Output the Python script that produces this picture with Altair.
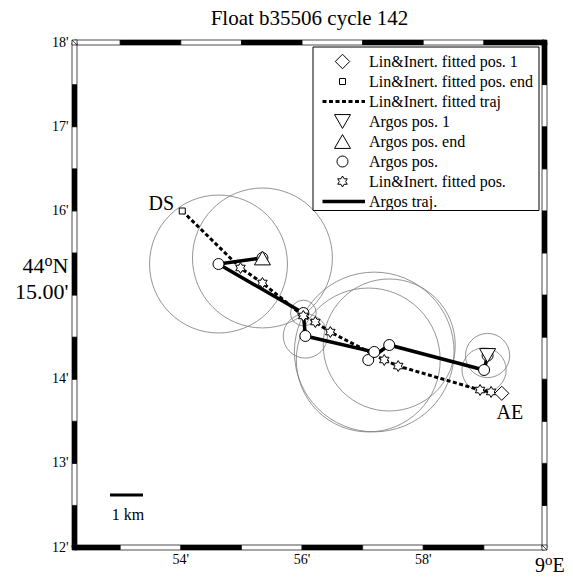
import altair as alt
import pandas as pd

TITLE = "Float b35506 cycle 142"

# Argos fixes in time order (first -> last); minutes of longitude east of 8°E / latitude north of 44°N
argos_lon = [59.061, 59.003, 57.438, 57.092, 57.191, 56.054, 56.021, 54.621, 55.346]
argos_lat = [14.281, 14.109, 14.406, 14.228, 14.323, 14.513, 14.786, 15.368, 15.440]
argos_err_km = [0.67, 0.67, 2.0, 2.18, 2.42, 0.67, 0.39, 2.09, 2.12]

# Lin&Inert fitted positions (DS first, AE last)
fit_lon = [54.023, 54.984, 55.346, 56.021, 56.219, 56.466, 57.356, 57.586, 58.937, 59.119, 59.295]
fit_lat = [15.998, 15.321, 15.143, 14.751, 14.679, 14.560, 14.228, 14.156, 13.871, 13.848, 13.832]

lon_range = [52.245, 60.0]
lat_range = [12.0, 18.0]
x_tick_vals = [54, 56, 58]
y_tick_vals = [12, 13, 14, 16, 17, 18]
frame_lon_edges = [52.245, 53, 54, 55, 56, 57, 58, 59, 60]
frame_lat_edges = [12, 12.5, 13, 13.5, 14, 14.5, 15, 15.5, 16, 16.5, 17, 17.5, 18]

legend_labels = [
    "Lin&Inert. fitted pos. 1",
    "Lin&Inert. fitted pos. end",
    "Lin&Inert. fitted traj",
    "Argos pos. 1",
    "Argos pos. end",
    "Argos pos.",
    "Lin&Inert. fitted pos.",
    "Argos traj.",
]
scale_bar_label = "1 km"

FONT = "Liberation Serif"
W, H = 470, 505
PX_PER_KM = 33
STAR = ("M0,-1L0.289,-0.5L0.866,-0.5L0.577,0L0.866,0.5L0.289,0.5L0,1"
        "L-0.289,0.5L-0.866,0.5L-0.577,0L-0.866,-0.5L-0.289,-0.5Z")

argos_df = pd.DataFrame({
    "lon": argos_lon, "lat": argos_lat,
    "r2": [r * r for r in argos_err_km],
    "seq": list(range(len(argos_lon))),
})
fit_df = pd.DataFrame({"lon": fit_lon, "lat": fit_lat, "seq": list(range(len(fit_lon)))})

xs = alt.Scale(domain=lon_range, nice=False, zero=False)
ys = alt.Scale(domain=lat_range, nice=False, zero=False)
X = alt.X("lon:Q", scale=xs, axis=None)
Y = alt.Y("lat:Q", scale=ys, axis=None)
one = pd.DataFrame({"a": [0]})

layers = []

# error circles
layers.append(alt.Chart(argos_df).mark_point(
    shape="circle", filled=False, color="#7a7a7a", strokeWidth=0.8, opacity=1, clip=True
).encode(x=X, y=Y, size=alt.Size("r2:Q", scale=alt.Scale(domain=[0, 1], range=[0, (2 * PX_PER_KM) ** 2], zero=True), legend=None)))

# fitted trajectory (dashed)
layers.append(alt.Chart(fit_df).mark_line(
    color="black", strokeWidth=3, strokeDash=[4, 2.5], clip=True
).encode(x=X, y=Y, order="seq:Q"))

# Argos trajectory
layers.append(alt.Chart(argos_df).mark_line(
    color="black", strokeWidth=3.5, clip=True
).encode(x=X, y=Y, order="seq:Q"))

# Argos positions
layers.append(alt.Chart(argos_df).mark_point(
    shape="circle", filled=True, fill="white", stroke="black", strokeWidth=1, size=121, opacity=1, clip=True
).encode(x=X, y=Y))

# fitted positions (stars), excluding DS and AE
layers.append(alt.Chart(fit_df.iloc[1:-1]).mark_point(
    shape=STAR, filled=True, fill="white", stroke="black", strokeWidth=1, size=121, opacity=1, clip=True
).encode(x=X, y=Y))

# special markers
layers.append(alt.Chart(fit_df.iloc[[0]]).mark_point(
    shape="square", filled=True, fill="white", stroke="black", strokeWidth=1, size=36, opacity=1, clip=True
).encode(x=X, y=Y))
layers.append(alt.Chart(fit_df.iloc[[-1]]).mark_point(
    shape="diamond", filled=True, fill="white", stroke="black", strokeWidth=1, size=200, opacity=1, clip=True
).encode(x=X, y=Y))
layers.append(alt.Chart(argos_df.iloc[[0]]).mark_point(
    shape="triangle-down", filled=True, fill="white", stroke="black", strokeWidth=1, size=256, opacity=1, clip=True
).encode(x=X, y=Y))
layers.append(alt.Chart(argos_df.iloc[[-1]]).mark_point(
    shape="triangle-up", filled=True, fill="white", stroke="black", strokeWidth=1, size=256, opacity=1, clip=True
).encode(x=X, y=Y))

# DS / AE labels
layers.append(alt.Chart(fit_df.iloc[[0]]).mark_text(
    text="DS", font=FONT, fontSize=20, color="black", dx=-21, dy=-7.5, align="center", baseline="middle"
).encode(x=X, y=Y))
layers.append(alt.Chart(fit_df.iloc[[-1]]).mark_text(
    text="AE", font=FONT, fontSize=20, color="black", dx=8, dy=20, align="center", baseline="middle"
).encode(x=X, y=Y))

# legend
LX0, LX1 = 238.5, 464.5
layers.append(alt.Chart(one).mark_rect(fill="white", stroke="black", strokeWidth=1).encode(
    x=alt.value(LX0), x2=alt.value(LX1), y=alt.value(4.5), y2=alt.value(168)))
row_y = [19 + 20 * i for i in range(len(legend_labels))]
SX = 268
sym_specs = {
    0: dict(shape="diamond", size=210),
    1: dict(shape="square", size=36),
    3: dict(shape="triangle-down", size=256),
    4: dict(shape="triangle-up", size=256),
    5: dict(shape="circle", size=121),
    6: dict(shape=STAR, size=121),
}
for i, spec in sym_specs.items():
    layers.append(alt.Chart(one).mark_point(
        filled=True, fill="white", stroke="black", strokeWidth=1, opacity=1, **spec
    ).encode(x=alt.value(SX), y=alt.value(row_y[i])))
layers.append(alt.Chart(one).mark_rule(color="black", strokeWidth=3, strokeDash=[4, 2.5]).encode(
    x=alt.value(248), x2=alt.value(290.5), y=alt.value(row_y[2])))
layers.append(alt.Chart(one).mark_rule(color="black", strokeWidth=3.5).encode(
    x=alt.value(248), x2=alt.value(290.5), y=alt.value(row_y[7])))
for i, lab in enumerate(legend_labels):
    layers.append(alt.Chart(one).mark_text(
        text=lab, font=FONT, fontSize=16, color="black", align="left", baseline="middle"
    ).encode(x=alt.value(294.5), y=alt.value(row_y[i])))

# scale bar
layers.append(alt.Chart(one).mark_rule(color="black", strokeWidth=3).encode(
    x=alt.value(35.5), x2=alt.value(35.5 + PX_PER_KM), y=alt.value(452.5)))
layers.append(alt.Chart(one).mark_text(
    text=scale_bar_label, font=FONT, fontSize=16, color="black", align="center", baseline="middle"
).encode(x=alt.value(53.5), y=alt.value(472.5)))

# fancy frame
lon_df = pd.DataFrame({"a": frame_lon_edges[:-1], "b": frame_lon_edges[1:], "k": list(range(len(frame_lon_edges) - 1))})
lat_df = pd.DataFrame({"a": frame_lat_edges[:-1], "b": frame_lat_edges[1:], "k": list(range(len(frame_lat_edges) - 1))})


def hstrip(y0, y1, even_black):
    test = "datum.k % 2 == 0" if even_black else "datum.k % 2 == 1"
    return alt.Chart(lon_df).mark_rect(stroke="black", strokeWidth=0.7).encode(
        x=alt.X("a:Q", scale=xs, axis=None), x2="b:Q",
        y=alt.value(y0), y2=alt.value(y1),
        fill=alt.condition(test, alt.value("black"), alt.value("white")))


def vstrip(x0, x1, even_black):
    test = "datum.k % 2 == 0" if even_black else "datum.k % 2 == 1"
    return alt.Chart(lat_df).mark_rect(stroke="black", strokeWidth=0.7).encode(
        y=alt.Y("a:Q", scale=ys, axis=None), y2="b:Q",
        x=alt.value(x0), x2=alt.value(x1),
        fill=alt.condition(test, alt.value("black"), alt.value("white")))


layers.append(hstrip(-2.5, 2.5, False))
layers.append(hstrip(H - 2.5, H + 2.5, True))
layers.append(vstrip(-2.5, 2.5, True))
layers.append(vstrip(W - 2.5, W + 2.5, False))
for (cx, cy, col) in [(0, 0, "white"), (W, 0, "black"), (0, H, "black"), (W, H, "white")]:
    layers.append(alt.Chart(one).mark_rect(fill=col, stroke="black", strokeWidth=0.7).encode(
        x=alt.value(cx - 2.5), x2=alt.value(cx + 2.5), y=alt.value(cy - 2.5), y2=alt.value(cy + 2.5)))
layers.append(alt.Chart(one).mark_rule(color="black", strokeWidth=0.7).encode(
    x=alt.value(-2.5), x2=alt.value(2.5), y=alt.value(-2.5), y2=alt.value(2.5)))
layers.append(alt.Chart(one).mark_rule(color="black", strokeWidth=0.7).encode(
    x=alt.value(W - 2.5), x2=alt.value(W + 2.5), y=alt.value(H - 2.5), y2=alt.value(H + 2.5)))

# tick labels
ylab_df = pd.DataFrame({"lat": y_tick_vals, "t": [f"{v}'" for v in y_tick_vals]})
xlab_df = pd.DataFrame({"lon": x_tick_vals, "t": [f"{v}'" for v in x_tick_vals]})
layers.append(alt.Chart(ylab_df).mark_text(font=FONT, fontSize=14, color="black", align="right", baseline="middle").encode(
    x=alt.value(-6), y=Y, text="t:N"))
layers.append(alt.Chart(xlab_df).mark_text(font=FONT, fontSize=14, color="black", align="center", baseline="middle").encode(
    x=X, y=alt.value(H + 12.5), text="t:N"))


# big degree labels: 44°N / 15.00' and 9°E
def txt(t, x, y, size, align="left"):
    return alt.Chart(one).mark_text(text=t, font=FONT, fontSize=size, color="black", align=align, baseline="alphabetic").encode(
        x=alt.value(x), y=alt.value(y))


layers.append(txt("N", -6, 230.5, 22, "right"))
layers.append(txt("o", -22, 223, 16, "right"))
layers.append(txt("44", -30, 230.5, 22, "right"))
layers.append(txt("15.00'", -6, 256, 22, "right"))
layers.append(txt("9", 460.5, 529.5, 20))
layers.append(txt("o", 470.5, 522.5, 15))
layers.append(txt("E", 478, 529.5, 20))

# title
layers.append(alt.Chart(one).mark_text(
    text=TITLE, font=FONT, fontSize=21, color="black", align="center", baseline="alphabetic"
).encode(x=alt.value(W / 2), y=alt.value(-17.5)))

chart = alt.layer(*layers).properties(
    width=W, height=H,
    autosize=alt.AutoSizeParams(type="none"),
    padding={"left": 74.5, "top": 42.5, "right": 28.5, "bottom": 29.5},
    background="white",
).configure_view(strokeWidth=0)

chart.save("out.html", embed_options={"renderer": "svg", "actions": False})
